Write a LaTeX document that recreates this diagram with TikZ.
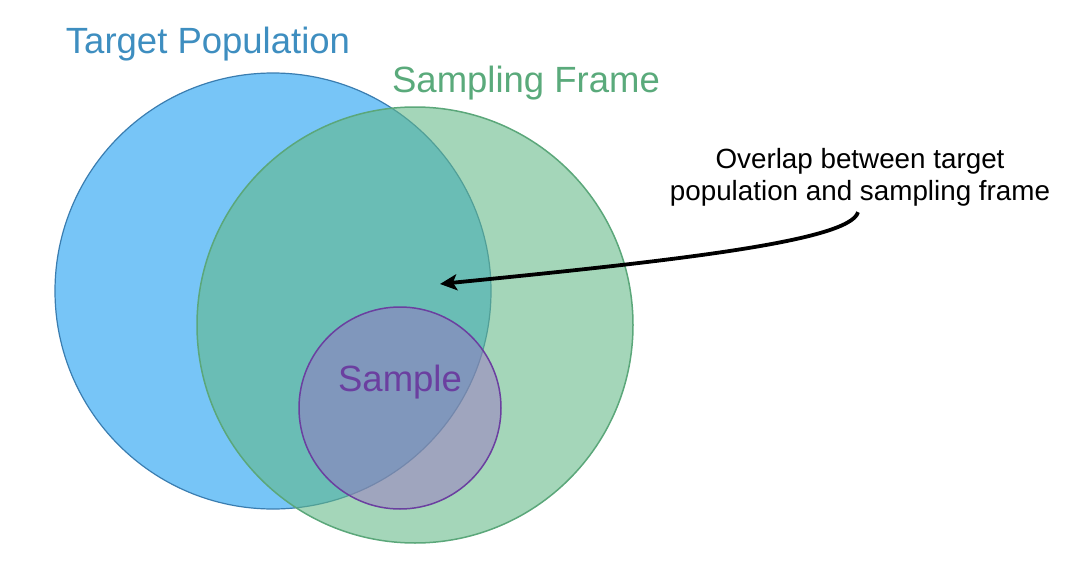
\documentclass[tikz,border=0pt]{standalone}
\usepackage{fontspec}
\setmainfont{Liberation Sans}
\usepackage{tikz}
\usetikzlibrary{arrows.meta,positioning}
\definecolor{colortp}{HTML}{77C5F7}
\definecolor{colortpline}{HTML}{3A7DB0}
\definecolor{colortptext}{HTML}{3E8EC0}
\definecolor{colorsf}{HTML}{62B886}
\definecolor{colorsfline}{HTML}{5BA77A}
\definecolor{colorsftext}{HTML}{5AAA7B}
\definecolor{colorsa}{HTML}{9A6EC4}
\definecolor{colorsaline}{HTML}{6B3FA0}
\tikzset{
  settp/.style={circle, draw=colortpline, fill=colortp, line width=1.2pt, inner sep=0pt, minimum size=436pt},
  setsf/.style={circle, draw=colorsfline, fill=colorsf, fill opacity=0.58, line width=1.5pt, inner sep=0pt, minimum size=436pt},
  setsa/.style={circle, draw=colorsaline, fill=colorsa, fill opacity=0.47, line width=1.5pt, inner sep=0pt, minimum size=202pt},
  settitle/.style={anchor=base, inner sep=0pt, font=\fontsize{36.5}{42}\selectfont},
  edgenote/.style={black, line width=3.8pt, -{Stealth[length=17pt,width=16pt,inset=4pt]}}
}

\begin{document}
\begin{tikzpicture}[x=1pt, y=-1pt]
\useasboundingbox (0,0) rectangle (1082,562);
\node[settp] (tp) at (273,291) {};
\node[setsf] (sf) at (415,325) {};
\node[setsa] (sa) at (400,408) {};
\node[settitle, text=colortptext] (tplabel) at (208,53) {Target Population};
\node[settitle, text=colorsftext] (sflabel) at (526,92) {Sampling Frame};
\node[settitle, text=colorsaline] (salabel) at (400,391) {Sample};
\node[align=center, inner sep=0pt, font=\fontsize{27.8}{32}\selectfont] (note) at (860,177) {Overlap between target\\population and sampling frame};
\coordinate (overlap) at (440,284);
\draw[edgenote] ([xshift=-2pt, yshift=-6pt]note.south) .. controls +(-8,30) and (660,262) .. (overlap);
\end{tikzpicture}
\end{document}
